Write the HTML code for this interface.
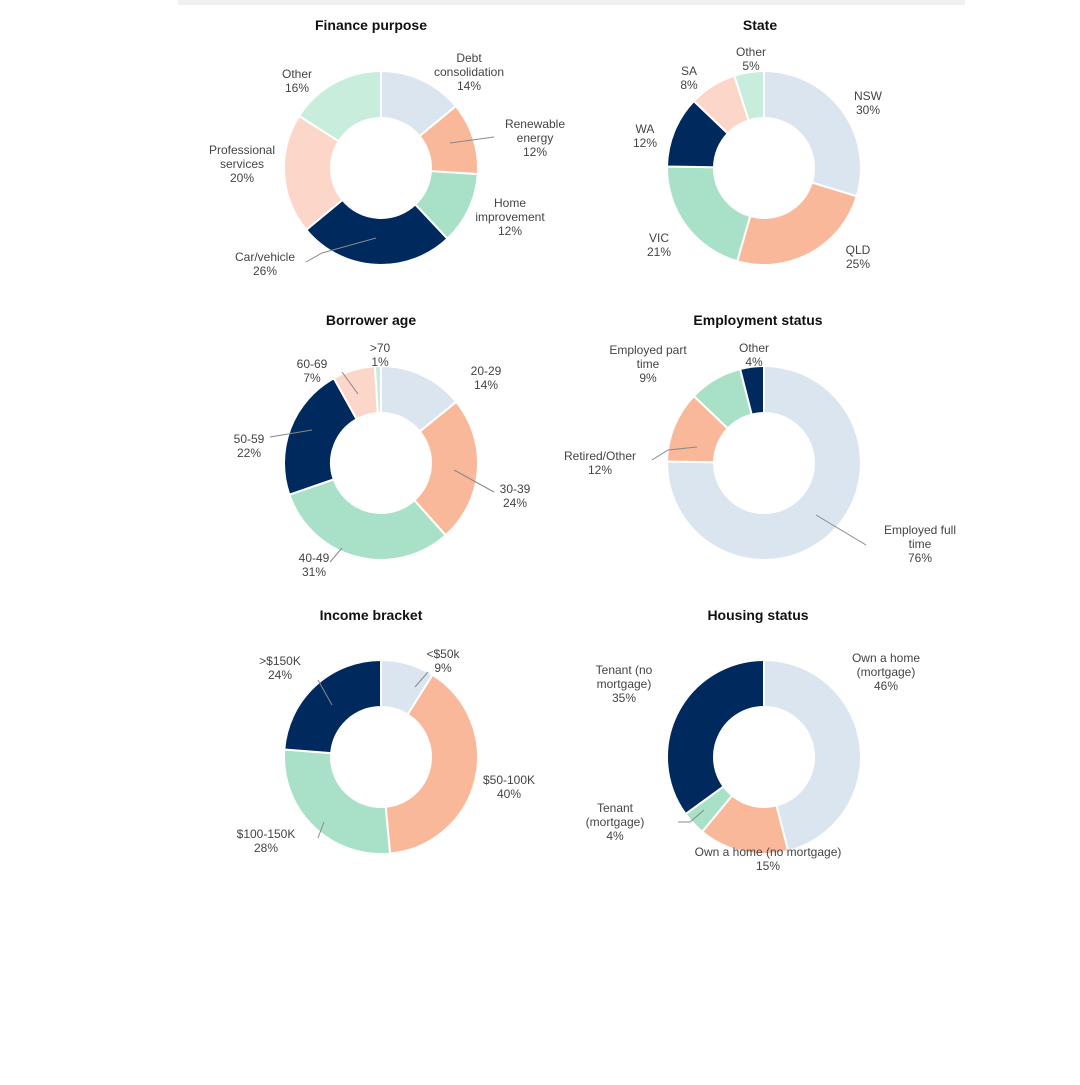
<!DOCTYPE html>
<html><head><meta charset="utf-8"><style>
body{margin:0;background:#fff;width:1080px;height:1080px;overflow:hidden;font-family:"Liberation Sans",Arial,sans-serif}
svg text{font-family:"Liberation Sans",Arial,sans-serif}
</style></head><body>
<svg id="c" width="1080" height="1080">
<rect x="178" y="0" width="787" height="5" fill="#f0f0f0"/>
</svg>
<script>
const colors=["#dbe5f0","#f9b89a","#a8e1c8","#002a5e","#fdd6ca","#c9eddd"];
const fpLabels=["Debt consolidation","Renewable energy","Home improvement","Car/vehicle","Professional services","Other"];
const fpValues=[14,12,12,26,20,16];
const stLabels=["NSW","QLD","VIC","WA","SA","Other"];
const stValues=[30,25,21,12,8,5];
const agLabels=["20-29","30-39","40-49","50-59","60-69",">70"];
const agValues=[14,24,31,22,7,1];
const emLabels=["Employed full time","Retired/Other","Employed part time","Other"];
const emValues=[76,12,9,4];
const emColors=[0,1,2,3];
const inLabels=["<$50k","$50-100K","$100-150K",">$150K"];
const inValues=[9,40,28,24];
const hoLabels=["Own a home (mortgage)","Own a home (no mortgage)","Tenant (mortgage)","Tenant (no mortgage)"];
const hoValues=[46,15,4,35];

const svg=document.getElementById('c');const NS="http://www.w3.org/2000/svg";
function mk(t,a,p){const e=document.createElementNS(NS,t);for(const k in a)e.setAttribute(k,a[k]);(p||svg).appendChild(e);return e;}
function txt(lines,x,y,name,anchor,bold,size){
  const t=mk('text',{x:x,y:y,'text-anchor':anchor||'middle','font-size':size||12,fill:bold?'#111':'#444','font-weight':bold?'bold':'normal'});
  
  
  lines.forEach((l,i)=>{const s=mk('tspan',{x:x,dy:i?14:0},t);s.textContent=l;});
}
function donut(cx,cy,vals,name){
  const R=97,r=50;const tot=vals.reduce((a,b)=>a+b,0);let a0=0;
  const g=mk('g',{});
  
  
  vals.forEach((v,i)=>{
    const a1=a0+v/tot*2*Math.PI;
    const p=(a,rr)=>[cx+rr*Math.sin(a),cy-rr*Math.cos(a)];
    const lg=(a1-a0)>Math.PI?1:0;
    const [x1,y1]=p(a0,R),[x2,y2]=p(a1,R),[x3,y3]=p(a1,r),[x4,y4]=p(a0,r);
    const path=mk('path',{d:`M${x1},${y1}A${R},${R} 0 ${lg} 1 ${x2},${y2}L${x3},${y3}A${r},${r} 0 ${lg} 0 ${x4},${y4}Z`,fill:colors[i],stroke:'#fff','stroke-width':2},g);
    
    
    a0=a1;
  });
}
function line(pts){mk('polyline',{points:pts,fill:'none',stroke:'#888','stroke-width':1});}

txt(["Finance purpose"],371,30,'title-finance-purpose','middle',true,14);
donut(381,168,fpValues,'finance-purpose');
txt(["Debt","consolidation","14%"],469,62,'label-debt');
txt(["Renewable","energy","12%"],535,128,'label-renewable');
txt(["Home","improvement","12%"],510,207,'label-home-improvement');
txt(["Car/vehicle","26%"],265,261,'label-car');
txt(["Professional","services","20%"],242,154,'label-professional');
txt(["Other","16%"],297,78,'label-other-fp');
line("450,143 494,137");line("306,262 322,253 376,238");

txt(["State"],760,30,'title-state','middle',true,14);
donut(764,168,stValues,'state');
txt(["NSW","30%"],868,100,'label-nsw');
txt(["QLD","25%"],858,254,'label-qld');
txt(["VIC","21%"],659,242,'label-vic');
txt(["WA","12%"],645,133,'label-wa');
txt(["SA","8%"],689,75,'label-sa');
txt(["Other","5%"],751,56,'label-other-state');

txt(["Borrower age"],371,325,'title-borrower-age','middle',true,14);
donut(381,463,agValues,'borrower-age');
txt(["20-29","14%"],486,375,'label-20-29');
txt(["30-39","24%"],515,493,'label-30-39');
txt(["40-49","31%"],314,562,'label-40-49');
txt(["50-59","22%"],249,443,'label-50-59');
txt(["60-69","7%"],312,368,'label-60-69');
txt([">70","1%"],380,352,'label-over-70');
line("454,470 494,492");line("330,562 342,548");line("270,437 312,430");line("342,372 358,394");

txt(["Employment status"],758,325,'title-employment-status','middle',true,14);
donut(764,463,emValues,'employment-status');
txt(["Employed full","time","76%"],920,534,'label-full-time');
txt(["Retired/Other","12%"],600,460,'label-retired');
txt(["Employed part","time","9%"],648,354,'label-part-time');
txt(["Other","4%"],754,352,'label-other-emp');
line("816,515 866,545");line("652,460 668,450 697,447");

txt(["Income bracket"],371,620,'title-income-bracket','middle',true,14);
donut(381,757,inValues,'income-bracket');
txt(["<$50k","9%"],443,658,'label-under-50k');
txt(["$50-100K","40%"],509,784,'label-50-100k');
txt(["$100-150K","28%"],266,838,'label-100-150k');
txt([">$150K","24%"],280,665,'label-over-150k');
line("415,687 428,672");line("318,838 324,822");line("318,680 332,705");

txt(["Housing status"],758,620,'title-housing-status','middle',true,14);
donut(764,757,hoValues,'housing-status');
txt(["Own a home","(mortgage)","46%"],886,662,'label-own-mortgage');
txt(["Own a home (no mortgage)","15%"],768,856,'label-own-no-mortgage');
txt(["Tenant","(mortgage)","4%"],615,812,'label-tenant-mortgage');
txt(["Tenant (no","mortgage)","35%"],624,674,'label-tenant-no-mortgage');
line("678,822 690,822 704,810");
</script>
</body></html>
